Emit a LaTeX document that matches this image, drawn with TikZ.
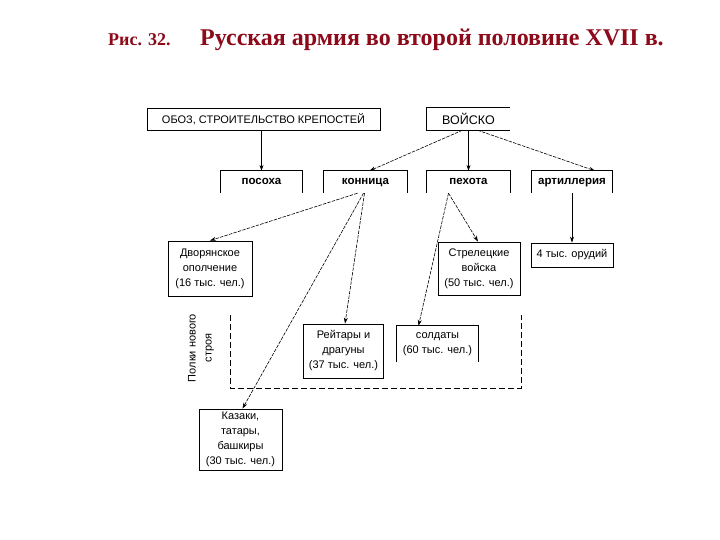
\documentclass[tikz,border=0pt]{standalone}
\usepackage{fontspec}
\setmainfont{Liberation Serif}
\newfontfamily\diag{Liberation Sans}
\usetikzlibrary{arrows.meta,calc}
\definecolor{titlered}{RGB}{140,10,25}
\begin{document}
\begin{tikzpicture}[x=1pt,y=-1pt,
  txt/.style={inner sep=0pt,align=center,font=\diag\fontsize{11}{15}\selectfont},
  box/.style={txt,draw,line width=0.8pt},
  head/.style={inner sep=0pt,align=center,font=\diag\bfseries\fontsize{11.5}{13}\selectfont,
    text height=8.5pt,text depth=2.5pt,minimum height=22pt},
  arr/.style={line width=0.6pt,-{Stealth[length=6pt,width=4pt]}},
  darr/.style={arr,dash pattern=on 3.5pt off 1.2pt},
  frame/.style={line width=0.8pt}
]
\useasboundingbox (0,0) rectangle (720,540);
\fill[white] (0,0) rectangle (720,540);

% titles
\node[anchor=base west,inner sep=0pt,text=titlered,font=\bfseries\fontsize{18}{18}\selectfont] (fig) at (108,46) {Рис. 32.};
\node[anchor=base west,inner sep=0pt,text=titlered,font=\bfseries\fontsize{24}{24}\selectfont] (title) at (200,46) {Русская армия во второй половине XVII в.};

% top row
\node[box,minimum width=233pt,minimum height=22pt] (oboz) at (263.5,119) {ОБОЗ, СТРОИТЕЛЬСТВО КРЕПОСТЕЙ};
\node[txt,font=\diag\fontsize{12.5}{15}\selectfont,minimum width=83pt,minimum height=22pt] (voisko) at (468.5,119) {ВОЙСКО};
\draw[frame] (voisko.north east) -- (voisko.north west) -- (voisko.south west) -- (voisko.south east);

% second row (open bottom)
\node[head,minimum width=82pt] (posoha) at (261.5,182) {посоха};
\node[head,minimum width=83pt] (konnica) at (365.5,182) {конница};
\node[head,minimum width=83pt] (pehota) at (468.5,182) {пехота};
\node[head,minimum width=80pt] (art) at (572,182) {артиллерия};
\foreach \n in {posoha,konnica,pehota,art}
  \draw[frame] (\n.south west) -- (\n.north west) -- (\n.north east) -- (\n.south east);

% third row
\node[box,minimum width=84pt,minimum height=55pt] (dvor) at (210,268.5) {Дворянское\\ополчение\\(16 тыс. чел.)};
\node[box,minimum width=82pt,minimum height=53pt] (strel) at (479,268.5) {Стрелецкие\\войска\\(50 тыс. чел.)};
\node[box,minimum width=82pt,minimum height=24pt] (orud) at (572,255) {4 тыс. орудий};

% new-order regiments
\node[box,minimum width=80pt,minimum height=54pt] (reit) at (343.5,351) {Рейтары и\\драгуны\\(37 тыс. чел.)};
\node[txt,minimum width=81pt,minimum height=36pt] (sold) at (437.5,344) {солдаты\\(60 тыс. чел.)};
\draw[frame] (sold.south west) -- (sold.north west) -- (sold.north east) -- (sold.south east);
\draw[frame,dash pattern=on 6pt off 3pt] (230,315) -- (230,388) -- (521,388) -- (521,315);
\node[txt,rotate=90,font=\diag\fontsize{11}{16}\selectfont] (polki) at (201,348) {Полки нового\\строя};

\node[box,minimum width=83pt,minimum height=61pt] (kaz) at (240.5,439.5) {Казаки,\\татары,\\башкиры\\(30 тыс. чел.)};

% connectors
\draw[arr] (oboz.south -| posoha.north) -- (posoha.north);
\draw[darr] ($(voisko.south)+(-6,0)$) -- ($(konnica.north)+(4,0)$);
\draw[arr] (voisko.south) -- (pehota.north);
\draw[darr] ($(voisko.south)+(9,0)$) -- ($(art.north)+(23,0)$);
\draw[arr] (art.south) -- (orud.north);

\draw[darr] ($(konnica.south)+(-8,0)$) -- (dvor.north);
\draw[darr] ($(konnica.south)+(-2,0)$) -- ($(kaz.north)+(2,0)$);
\draw[darr] ($(konnica.south)+(-1,0)$) -- ($(reit.north)+(1.5,0)$);
\draw[darr] ($(pehota.south)+(-20,0)$) -- ($(sold.north)+(-19,0)$);
\draw[darr] ($(pehota.south)+(-20,0)$) -- ($(strel.north)+(-1,0)$);
\end{tikzpicture}
\end{document}
